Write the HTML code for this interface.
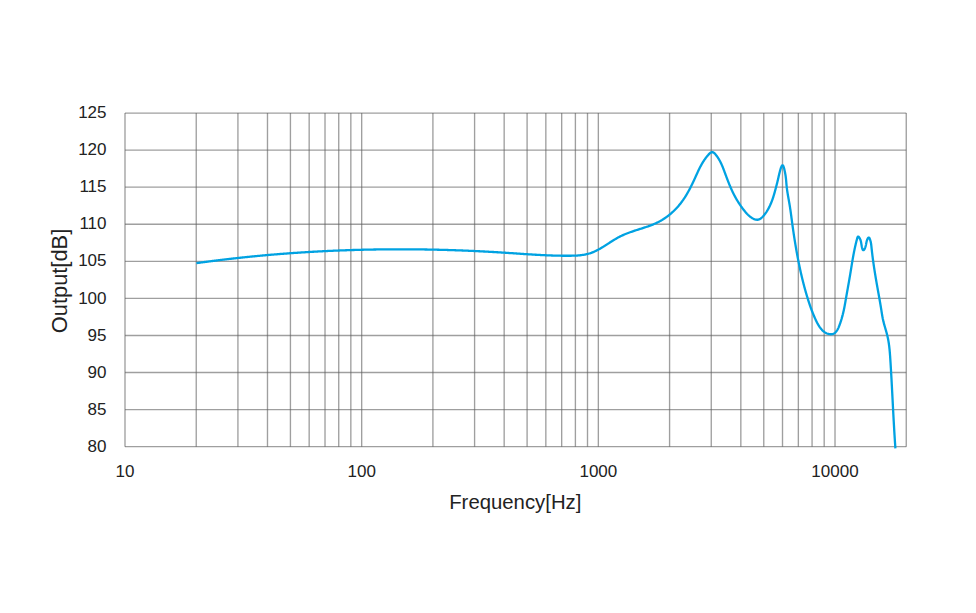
<!DOCTYPE html>
<html><head><meta charset="utf-8"><style>
html,body{margin:0;padding:0;background:#fff;}
svg{display:block;}
text{font-family:"Liberation Sans",sans-serif;fill:#222;}
</style></head><body>
<svg width="976" height="613" viewBox="0 0 976 613">
<rect width="976" height="613" fill="#fff"/>
<g stroke="#5f5f5f" stroke-width="1.35" stroke-opacity="0.6" fill="none">
<line x1="125.00" y1="113.05" x2="906.25" y2="113.05"/>
<line x1="125.00" y1="150.12" x2="906.25" y2="150.12"/>
<line x1="125.00" y1="187.19" x2="906.25" y2="187.19"/>
<line x1="125.00" y1="224.26" x2="906.25" y2="224.26"/>
<line x1="125.00" y1="261.33" x2="906.25" y2="261.33"/>
<line x1="125.00" y1="298.40" x2="906.25" y2="298.40"/>
<line x1="125.00" y1="335.47" x2="906.25" y2="335.47"/>
<line x1="125.00" y1="372.54" x2="906.25" y2="372.54"/>
<line x1="125.00" y1="409.61" x2="906.25" y2="409.61"/>
<line x1="125.00" y1="446.68" x2="906.25" y2="446.68"/>
<line x1="125.00" y1="113.05" x2="125.00" y2="446.68"/>
<line x1="196.24" y1="113.05" x2="196.24" y2="446.68"/>
<line x1="237.92" y1="113.05" x2="237.92" y2="446.68"/>
<line x1="267.49" y1="113.05" x2="267.49" y2="446.68"/>
<line x1="290.43" y1="113.05" x2="290.43" y2="446.68"/>
<line x1="309.17" y1="113.05" x2="309.17" y2="446.68"/>
<line x1="325.01" y1="113.05" x2="325.01" y2="446.68"/>
<line x1="338.73" y1="113.05" x2="338.73" y2="446.68"/>
<line x1="350.84" y1="113.05" x2="350.84" y2="446.68"/>
<line x1="361.67" y1="113.05" x2="361.67" y2="446.68"/>
<line x1="432.91" y1="113.05" x2="432.91" y2="446.68"/>
<line x1="474.59" y1="113.05" x2="474.59" y2="446.68"/>
<line x1="504.16" y1="113.05" x2="504.16" y2="446.68"/>
<line x1="527.10" y1="113.05" x2="527.10" y2="446.68"/>
<line x1="545.84" y1="113.05" x2="545.84" y2="446.68"/>
<line x1="561.68" y1="113.05" x2="561.68" y2="446.68"/>
<line x1="575.40" y1="113.05" x2="575.40" y2="446.68"/>
<line x1="587.51" y1="113.05" x2="587.51" y2="446.68"/>
<line x1="598.34" y1="113.05" x2="598.34" y2="446.68"/>
<line x1="669.58" y1="113.05" x2="669.58" y2="446.68"/>
<line x1="711.26" y1="113.05" x2="711.26" y2="446.68"/>
<line x1="740.83" y1="113.05" x2="740.83" y2="446.68"/>
<line x1="763.77" y1="113.05" x2="763.77" y2="446.68"/>
<line x1="782.51" y1="113.05" x2="782.51" y2="446.68"/>
<line x1="798.35" y1="113.05" x2="798.35" y2="446.68"/>
<line x1="812.07" y1="113.05" x2="812.07" y2="446.68"/>
<line x1="824.18" y1="113.05" x2="824.18" y2="446.68"/>
<line x1="835.01" y1="113.05" x2="835.01" y2="446.68"/>
<line x1="906.25" y1="113.05" x2="906.25" y2="446.68"/>
</g>
<path d="M196.40,263.15 L197.09,263.05 L197.79,262.96 L198.48,262.86 L199.17,262.76 L199.87,262.67 L200.56,262.57 L201.26,262.48 L201.95,262.39 L202.65,262.29 L203.34,262.20 L204.04,262.10 L204.73,262.01 L205.42,261.92 L206.12,261.83 L206.81,261.74 L207.51,261.64 L208.20,261.55 L208.90,261.46 L209.59,261.37 L210.29,261.28 L210.98,261.19 L211.68,261.10 L212.37,261.01 L213.07,260.92 L213.76,260.84 L214.46,260.75 L215.15,260.66 L215.85,260.57 L216.54,260.49 L217.24,260.40 L217.94,260.31 L218.63,260.23 L219.33,260.14 L220.02,260.06 L220.72,259.97 L221.41,259.89 L222.11,259.80 L222.80,259.72 L223.50,259.64 L224.20,259.55 L224.89,259.47 L225.59,259.39 L226.28,259.31 L226.98,259.22 L227.68,259.14 L228.37,259.06 L229.07,258.98 L229.76,258.90 L230.46,258.82 L231.16,258.74 L231.85,258.66 L232.55,258.58 L233.25,258.50 L233.94,258.43 L234.64,258.35 L235.33,258.27 L236.03,258.19 L236.73,258.12 L237.42,258.04 L238.12,257.96 L238.82,257.89 L239.51,257.81 L240.21,257.74 L240.91,257.66 L241.60,257.59 L242.30,257.51 L243.00,257.44 L243.69,257.37 L244.39,257.29 L245.09,257.22 L245.79,257.15 L246.48,257.08 L247.18,257.01 L247.88,256.93 L248.57,256.86 L249.27,256.79 L249.97,256.72 L250.67,256.65 L251.36,256.58 L252.06,256.51 L252.76,256.44 L253.45,256.37 L254.15,256.31 L254.85,256.24 L255.55,256.17 L256.24,256.10 L256.94,256.04 L257.64,255.97 L258.34,255.90 L259.03,255.84 L259.73,255.77 L260.43,255.71 L261.13,255.64 L261.83,255.58 L262.52,255.51 L263.22,255.45 L263.92,255.39 L264.62,255.32 L265.31,255.26 L266.01,255.20 L266.71,255.14 L267.41,255.07 L268.11,255.01 L268.80,254.95 L269.50,254.89 L270.20,254.83 L270.90,254.77 L271.60,254.71 L272.30,254.65 L272.99,254.59 L273.69,254.53 L274.39,254.47 L275.09,254.42 L275.79,254.36 L276.49,254.30 L277.18,254.24 L277.88,254.19 L278.58,254.13 L279.28,254.07 L279.98,254.02 L280.68,253.96 L281.37,253.91 L282.07,253.85 L282.77,253.80 L283.47,253.74 L284.17,253.69 L284.87,253.64 L285.57,253.58 L286.27,253.53 L286.96,253.48 L287.66,253.43 L288.36,253.37 L289.06,253.32 L289.76,253.27 L290.46,253.22 L291.16,253.17 L291.86,253.12 L292.56,253.07 L293.25,253.02 L293.95,252.97 L294.65,252.92 L295.35,252.87 L296.05,252.83 L296.75,252.78 L297.45,252.73 L298.15,252.68 L298.85,252.64 L299.55,252.59 L300.25,252.54 L300.95,252.50 L301.64,252.45 L302.34,252.41 L303.04,252.36 L303.74,252.32 L304.44,252.28 L305.14,252.23 L305.84,252.19 L306.54,252.14 L307.24,252.10 L307.94,252.06 L308.64,252.02 L309.34,251.98 L310.04,251.93 L310.74,251.89 L311.44,251.85 L312.14,251.81 L312.84,251.77 L313.54,251.73 L314.23,251.69 L314.93,251.65 L315.63,251.61 L316.33,251.58 L317.03,251.54 L317.73,251.50 L318.43,251.46 L319.13,251.42 L319.83,251.39 L320.53,251.35 L321.23,251.31 L321.93,251.28 L322.63,251.24 L323.33,251.21 L324.03,251.17 L324.73,251.14 L325.43,251.10 L326.13,251.07 L326.83,251.04 L327.53,251.00 L328.23,250.97 L328.93,250.94 L329.63,250.90 L330.33,250.87 L331.03,250.84 L331.73,250.81 L332.43,250.78 L333.13,250.75 L333.83,250.72 L334.53,250.69 L335.23,250.66 L335.93,250.63 L336.63,250.60 L337.33,250.57 L338.03,250.54 L338.73,250.51 L339.43,250.49 L340.13,250.46 L340.83,250.43 L341.53,250.40 L342.23,250.38 L342.93,250.35 L343.63,250.33 L344.33,250.30 L345.03,250.28 L345.73,250.25 L346.43,250.23 L347.14,250.20 L347.84,250.18 L348.54,250.15 L349.24,250.13 L349.94,250.11 L350.64,250.09 L351.34,250.06 L352.04,250.04 L352.74,250.02 L353.44,250.00 L354.14,249.98 L354.84,249.96 L355.54,249.94 L356.24,249.92 L356.94,249.90 L357.64,249.88 L358.34,249.86 L359.04,249.84 L359.74,249.82 L360.44,249.80 L361.14,249.78 L361.84,249.77 L362.54,249.75 L363.25,249.73 L363.95,249.72 L364.65,249.70 L365.35,249.68 L366.05,249.67 L366.75,249.65 L367.45,249.64 L368.15,249.62 L368.85,249.61 L369.55,249.60 L370.25,249.58 L370.95,249.57 L371.65,249.56 L372.35,249.54 L373.05,249.53 L373.75,249.52 L374.45,249.51 L375.16,249.50 L375.86,249.48 L376.56,249.47 L377.26,249.46 L377.96,249.45 L378.66,249.44 L379.36,249.43 L380.06,249.42 L380.76,249.41 L381.46,249.41 L382.16,249.40 L382.86,249.39 L383.56,249.38 L384.26,249.37 L384.97,249.37 L385.67,249.36 L386.37,249.35 L387.07,249.35 L387.77,249.34 L388.47,249.34 L389.17,249.33 L389.87,249.33 L390.57,249.32 L391.27,249.32 L391.97,249.31 L392.67,249.31 L393.37,249.31 L394.07,249.31 L394.78,249.30 L395.48,249.30 L396.18,249.30 L396.88,249.30 L397.58,249.30 L398.28,249.29 L398.98,249.29 L399.68,249.29 L400.38,249.29 L401.08,249.29 L401.78,249.29 L402.48,249.29 L403.18,249.30 L403.88,249.30 L404.59,249.30 L405.29,249.30 L405.99,249.30 L406.69,249.31 L407.39,249.31 L408.09,249.31 L408.79,249.32 L409.49,249.32 L410.19,249.32 L410.89,249.33 L411.59,249.33 L412.29,249.34 L412.99,249.34 L413.70,249.35 L414.40,249.36 L415.10,249.36 L415.80,249.37 L416.50,249.38 L417.20,249.38 L417.90,249.39 L418.60,249.40 L419.30,249.41 L420.00,249.42 L420.70,249.42 L421.40,249.43 L422.10,249.44 L422.80,249.45 L423.50,249.46 L424.21,249.47 L424.91,249.48 L425.61,249.50 L426.31,249.51 L427.01,249.52 L427.71,249.53 L428.41,249.54 L429.11,249.56 L429.81,249.57 L430.51,249.58 L431.21,249.60 L431.91,249.61 L432.61,249.62 L433.31,249.64 L434.01,249.65 L434.71,249.67 L435.42,249.68 L436.12,249.70 L436.82,249.71 L437.52,249.73 L438.22,249.75 L438.92,249.76 L439.62,249.78 L440.32,249.80 L441.02,249.82 L441.72,249.84 L442.42,249.85 L443.12,249.87 L443.82,249.89 L444.52,249.91 L445.22,249.93 L445.92,249.95 L446.62,249.97 L447.32,249.99 L448.02,250.01 L448.73,250.03 L449.43,250.05 L450.13,250.08 L450.83,250.10 L451.53,250.12 L452.23,250.14 L452.93,250.17 L453.63,250.19 L454.33,250.21 L455.03,250.24 L455.73,250.26 L456.43,250.29 L457.13,250.31 L457.83,250.34 L458.53,250.36 L459.23,250.39 L459.93,250.41 L460.63,250.44 L461.33,250.47 L462.03,250.49 L462.73,250.52 L463.43,250.55 L464.13,250.58 L464.83,250.60 L465.53,250.63 L466.23,250.66 L466.93,250.69 L467.63,250.72 L468.33,250.75 L469.03,250.78 L469.73,250.81 L470.43,250.84 L471.13,250.87 L471.83,250.90 L472.53,250.93 L473.23,250.97 L473.93,251.00 L474.63,251.03 L475.33,251.06 L476.03,251.10 L476.73,251.13 L477.43,251.16 L478.13,251.20 L478.83,251.23 L479.53,251.27 L480.23,251.30 L480.93,251.34 L481.63,251.37 L482.33,251.41 L483.03,251.44 L483.73,251.48 L484.43,251.52 L485.13,251.55 L485.83,251.59 L486.53,251.63 L487.23,251.67 L487.93,251.70 L488.63,251.74 L489.33,251.78 L490.03,251.82 L490.73,251.86 L491.43,251.90 L492.13,251.94 L492.83,251.98 L493.53,252.02 L494.23,252.06 L494.93,252.10 L495.63,252.14 L496.33,252.18 L497.02,252.23 L497.72,252.27 L498.42,252.31 L499.12,252.35 L499.82,252.40 L500.52,252.44 L501.22,252.48 L501.92,252.53 L502.62,252.57 L503.32,252.62 L504.02,252.66 L504.72,252.71 L505.42,252.75 L506.12,252.80 L506.82,252.85 L507.51,252.89 L508.21,252.94 L508.91,252.99 L509.61,253.03 L510.31,253.08 L511.01,253.13 L511.71,253.17 L512.41,253.22 L513.11,253.27 L513.81,253.32 L514.51,253.36 L515.21,253.41 L515.90,253.46 L516.60,253.51 L517.30,253.55 L518.00,253.60 L518.70,253.65 L519.40,253.70 L520.10,253.74 L520.80,253.79 L521.50,253.84 L522.20,253.89 L522.90,253.93 L523.60,253.98 L524.29,254.03 L524.99,254.07 L525.69,254.12 L526.39,254.16 L527.09,254.21 L527.79,254.25 L528.49,254.30 L529.19,254.34 L529.89,254.39 L530.59,254.43 L531.29,254.47 L531.99,254.52 L532.69,254.56 L533.39,254.60 L534.09,254.64 L534.78,254.69 L535.48,254.73 L536.18,254.77 L536.88,254.81 L537.58,254.85 L538.28,254.88 L538.98,254.92 L539.68,254.96 L540.38,255.00 L541.08,255.03 L541.78,255.07 L542.48,255.10 L543.18,255.14 L543.88,255.17 L544.58,255.20 L545.28,255.24 L545.98,255.27 L546.68,255.30 L547.38,255.33 L548.08,255.36 L548.78,255.38 L549.48,255.41 L550.18,255.44 L550.88,255.46 L551.58,255.49 L552.28,255.51 L552.98,255.53 L553.68,255.56 L554.38,255.58 L555.09,255.60 L555.79,255.61 L556.49,255.63 L557.19,255.65 L557.89,255.67 L558.59,255.68 L559.29,255.69 L559.99,255.71 L560.69,255.72 L561.39,255.73 L562.09,255.74 L562.79,255.74 L563.49,255.75 L564.19,255.76 L564.89,255.76 L565.59,255.76 L566.30,255.77 L567.00,255.77 L567.70,255.77 L568.40,255.76 L569.10,255.76 L569.80,255.75 L570.50,255.75 L571.20,255.74 L571.90,255.72 L572.60,255.71 L573.30,255.69 L574.00,255.67 L574.70,255.64 L575.40,255.61 L576.10,255.57 L576.80,255.53 L577.50,255.49 L578.20,255.43 L578.90,255.37 L579.60,255.31 L580.29,255.24 L580.99,255.16 L581.68,255.07 L582.38,254.98 L583.07,254.88 L583.76,254.76 L584.45,254.64 L585.14,254.51 L585.83,254.37 L586.51,254.22 L587.20,254.06 L587.88,253.89 L588.55,253.71 L589.22,253.51 L589.89,253.31 L590.56,253.09 L591.22,252.86 L591.88,252.61 L592.53,252.36 L593.18,252.10 L593.83,251.83 L594.47,251.54 L595.11,251.25 L595.74,250.95 L596.37,250.64 L597.00,250.33 L597.62,250.01 L598.24,249.68 L598.85,249.34 L599.46,249.00 L600.07,248.66 L600.68,248.31 L601.29,247.95 L601.89,247.59 L602.49,247.23 L603.08,246.87 L603.68,246.50 L604.27,246.13 L604.87,245.75 L605.46,245.38 L606.05,245.00 L606.64,244.62 L607.23,244.24 L607.82,243.86 L608.41,243.48 L609.00,243.10 L609.58,242.72 L610.17,242.34 L610.76,241.96 L611.35,241.59 L611.95,241.21 L612.54,240.84 L613.13,240.47 L613.73,240.10 L614.33,239.73 L614.93,239.37 L615.53,239.01 L616.13,238.66 L616.74,238.31 L617.35,237.96 L617.96,237.62 L618.58,237.29 L619.20,236.96 L619.82,236.64 L620.45,236.32 L621.07,236.01 L621.71,235.71 L622.34,235.41 L622.98,235.12 L623.62,234.84 L624.26,234.56 L624.91,234.28 L625.55,234.02 L626.20,233.75 L626.85,233.49 L627.51,233.24 L628.16,232.99 L628.82,232.74 L629.48,232.50 L630.14,232.27 L630.80,232.03 L631.46,231.80 L632.12,231.57 L632.78,231.34 L633.45,231.12 L634.11,230.90 L634.78,230.68 L635.44,230.46 L636.11,230.25 L636.78,230.03 L637.44,229.82 L638.11,229.60 L638.78,229.39 L639.45,229.18 L640.11,228.96 L640.78,228.75 L641.45,228.54 L642.12,228.32 L642.78,228.11 L643.45,227.89 L644.12,227.67 L644.78,227.45 L645.45,227.23 L646.11,227.01 L646.77,226.78 L647.43,226.55 L648.10,226.32 L648.75,226.08 L649.41,225.84 L650.07,225.60 L650.73,225.35 L651.38,225.10 L652.03,224.84 L652.68,224.58 L653.33,224.32 L653.98,224.04 L654.62,223.77 L655.26,223.49 L655.90,223.20 L656.54,222.90 L657.17,222.60 L657.80,222.30 L658.43,221.98 L659.05,221.66 L659.67,221.33 L660.28,221.00 L660.89,220.65 L661.50,220.30 L662.10,219.95 L662.70,219.58 L663.30,219.21 L663.89,218.83 L664.47,218.45 L665.05,218.06 L665.63,217.66 L666.20,217.26 L666.77,216.85 L667.34,216.43 L667.90,216.01 L668.45,215.58 L669.00,215.14 L669.55,214.70 L670.09,214.26 L670.62,213.81 L671.15,213.35 L671.68,212.89 L672.20,212.42 L672.72,211.95 L673.23,211.47 L673.74,210.99 L674.24,210.50 L674.74,210.01 L675.23,209.51 L675.72,209.01 L676.20,208.50 L676.68,207.99 L677.16,207.47 L677.62,206.95 L678.09,206.42 L678.55,205.89 L679.00,205.36 L679.45,204.82 L679.89,204.27 L680.32,203.73 L680.76,203.17 L681.18,202.62 L681.60,202.06 L682.02,201.49 L682.43,200.93 L682.84,200.36 L683.24,199.78 L683.64,199.20 L684.03,198.62 L684.41,198.04 L684.80,197.45 L685.17,196.86 L685.55,196.27 L685.92,195.67 L686.28,195.07 L686.64,194.47 L687.00,193.87 L687.35,193.27 L687.70,192.66 L688.05,192.05 L688.39,191.44 L688.73,190.82 L689.06,190.21 L689.39,189.59 L689.72,188.97 L690.05,188.35 L690.37,187.73 L690.69,187.10 L691.01,186.48 L691.32,185.85 L691.63,185.22 L691.94,184.60 L692.25,183.97 L692.55,183.33 L692.85,182.70 L693.15,182.07 L693.45,181.43 L693.75,180.80 L694.04,180.16 L694.34,179.53 L694.63,178.89 L694.92,178.25 L695.21,177.62 L695.50,176.98 L695.79,176.34 L696.07,175.70 L696.36,175.06 L696.65,174.42 L696.94,173.78 L697.23,173.15 L697.52,172.51 L697.82,171.87 L698.11,171.24 L698.41,170.60 L698.71,169.97 L699.02,169.34 L699.33,168.71 L699.64,168.08 L699.96,167.46 L700.28,166.84 L700.60,166.22 L700.94,165.60 L701.27,164.98 L701.61,164.37 L701.96,163.76 L702.31,163.16 L702.67,162.56 L703.04,161.96 L703.41,161.37 L703.80,160.78 L704.18,160.20 L704.58,159.62 L704.98,159.04 L705.39,158.47 L705.81,157.91 L706.23,157.35 L706.66,156.80 L707.11,156.26 L707.55,155.72 L708.01,155.19 L708.47,154.66 L708.95,154.15 L709.44,153.65 L709.96,153.18 L710.52,152.75 L711.12,152.40 L711.78,152.16 L712.47,152.10 L713.14,152.29 L713.75,152.64 L714.29,153.09 L714.78,153.58 L715.25,154.11 L715.70,154.65 L716.13,155.19 L716.56,155.75 L716.98,156.31 L717.38,156.89 L717.78,157.46 L718.16,158.05 L718.54,158.64 L718.90,159.24 L719.26,159.85 L719.60,160.45 L719.94,161.07 L720.26,161.69 L720.58,162.32 L720.89,162.94 L721.19,163.58 L721.48,164.21 L721.77,164.85 L722.05,165.49 L722.32,166.14 L722.59,166.79 L722.85,167.44 L723.11,168.09 L723.37,168.74 L723.62,169.40 L723.87,170.05 L724.11,170.71 L724.36,171.36 L724.60,172.02 L724.84,172.68 L725.09,173.34 L725.33,173.99 L725.57,174.65 L725.82,175.31 L726.06,175.96 L726.31,176.62 L726.55,177.28 L726.80,177.93 L727.05,178.59 L727.30,179.24 L727.55,179.90 L727.80,180.55 L728.05,181.20 L728.31,181.86 L728.57,182.51 L728.83,183.16 L729.09,183.81 L729.35,184.46 L729.62,185.10 L729.89,185.75 L730.16,186.40 L730.44,187.04 L730.72,187.68 L731.00,188.33 L731.28,188.97 L731.57,189.61 L731.86,190.24 L732.15,190.88 L732.45,191.51 L732.75,192.15 L733.06,192.78 L733.37,193.41 L733.68,194.03 L734.00,194.66 L734.32,195.28 L734.65,195.90 L734.98,196.52 L735.31,197.13 L735.65,197.75 L736.00,198.36 L736.34,198.96 L736.70,199.57 L737.05,200.17 L737.42,200.77 L737.78,201.37 L738.15,201.97 L738.53,202.56 L738.91,203.15 L739.29,203.73 L739.68,204.32 L740.07,204.90 L740.46,205.48 L740.86,206.05 L741.27,206.62 L741.68,207.19 L742.09,207.76 L742.51,208.32 L742.93,208.88 L743.36,209.44 L743.79,209.99 L744.22,210.54 L744.66,211.09 L745.10,211.63 L745.55,212.17 L746.01,212.70 L746.47,213.23 L746.94,213.75 L747.43,214.25 L747.92,214.75 L748.43,215.23 L748.95,215.70 L749.48,216.16 L750.03,216.59 L750.59,217.02 L751.16,217.42 L751.74,217.81 L752.34,218.17 L752.95,218.51 L753.58,218.82 L754.23,219.10 L754.88,219.34 L755.56,219.54 L756.24,219.67 L756.94,219.75 L757.64,219.74 L758.33,219.63 L759.00,219.44 L759.65,219.16 L760.26,218.82 L760.84,218.43 L761.39,217.99 L761.91,217.52 L762.41,217.03 L762.89,216.52 L763.36,216.00 L763.81,215.46 L764.25,214.92 L764.68,214.37 L765.11,213.81 L765.52,213.25 L765.92,212.67 L766.32,212.10 L766.71,211.51 L767.08,210.92 L767.45,210.32 L767.81,209.72 L768.16,209.11 L768.50,208.50 L768.83,207.88 L769.15,207.26 L769.47,206.64 L769.77,206.01 L770.07,205.37 L770.36,204.73 L770.65,204.09 L770.92,203.45 L771.19,202.80 L771.45,202.15 L771.70,201.50 L771.95,200.84 L772.19,200.18 L772.43,199.52 L772.66,198.86 L772.88,198.20 L773.10,197.53 L773.32,196.87 L773.53,196.20 L773.74,195.53 L773.94,194.86 L774.14,194.19 L774.33,193.51 L774.52,192.84 L774.71,192.16 L774.90,191.49 L775.09,190.81 L775.27,190.14 L775.45,189.46 L775.63,188.78 L775.81,188.10 L775.99,187.43 L776.16,186.75 L776.34,186.07 L776.52,185.39 L776.69,184.71 L776.86,184.03 L777.04,183.36 L777.21,182.68 L777.38,182.00 L777.54,181.32 L777.71,180.63 L777.87,179.95 L778.03,179.27 L778.18,178.59 L778.34,177.90 L778.49,177.22 L778.64,176.53 L778.80,175.85 L778.96,175.17 L779.12,174.49 L779.28,173.81 L779.45,173.13 L779.62,172.45 L779.80,171.77 L779.98,171.09 L780.16,170.41 L780.35,169.74 L780.55,169.07 L780.76,168.40 L780.98,167.73 L781.23,167.08 L781.50,166.43 L781.83,165.81 L782.28,165.29 L782.90,165.41 L783.28,165.99 L783.56,166.64 L783.78,167.30 L783.98,167.97 L784.16,168.65 L784.33,169.33 L784.49,170.01 L784.65,170.69 L784.80,171.38 L784.94,172.06 L785.07,172.75 L785.20,173.44 L785.32,174.13 L785.44,174.82 L785.55,175.51 L785.65,176.21 L785.74,176.90 L785.83,177.60 L785.91,178.29 L785.99,178.99 L786.06,179.69 L786.13,180.38 L786.19,181.08 L786.25,181.78 L786.31,182.48 L786.36,183.18 L786.42,183.87 L786.48,184.57 L786.54,185.27 L786.61,185.97 L786.68,186.67 L786.76,187.36 L786.84,188.06 L786.93,188.75 L787.02,189.45 L787.12,190.14 L787.22,190.83 L787.33,191.53 L787.43,192.22 L787.54,192.91 L787.66,193.60 L787.77,194.29 L787.89,194.99 L788.01,195.68 L788.13,196.37 L788.25,197.06 L788.37,197.75 L788.49,198.44 L788.62,199.13 L788.74,199.82 L788.86,200.51 L788.98,201.20 L789.10,201.89 L789.22,202.58 L789.34,203.27 L789.46,203.96 L789.58,204.65 L789.69,205.34 L789.80,206.03 L789.91,206.72 L790.02,207.42 L790.13,208.11 L790.23,208.80 L790.34,209.50 L790.44,210.19 L790.54,210.88 L790.64,211.58 L790.74,212.27 L790.83,212.96 L790.93,213.66 L791.02,214.35 L791.12,215.05 L791.21,215.74 L791.31,216.44 L791.40,217.13 L791.49,217.82 L791.58,218.52 L791.68,219.21 L791.77,219.91 L791.86,220.60 L791.95,221.30 L792.05,221.99 L792.14,222.69 L792.23,223.38 L792.33,224.08 L792.42,224.77 L792.52,225.46 L792.61,226.16 L792.71,226.85 L792.81,227.55 L792.91,228.24 L793.00,228.93 L793.10,229.63 L793.20,230.32 L793.30,231.01 L793.40,231.71 L793.51,232.40 L793.61,233.09 L793.71,233.79 L793.82,234.48 L793.92,235.17 L794.02,235.87 L794.13,236.56 L794.24,237.25 L794.34,237.94 L794.45,238.64 L794.56,239.33 L794.67,240.02 L794.78,240.71 L794.89,241.41 L795.00,242.10 L795.11,242.79 L795.23,243.48 L795.34,244.17 L795.46,244.86 L795.57,245.55 L795.69,246.25 L795.80,246.94 L795.92,247.63 L796.04,248.32 L796.16,249.01 L796.28,249.70 L796.40,250.39 L796.52,251.08 L796.65,251.77 L796.77,252.46 L796.90,253.15 L797.02,253.84 L797.15,254.53 L797.28,255.22 L797.40,255.90 L797.53,256.59 L797.66,257.28 L797.80,257.97 L797.93,258.66 L798.06,259.35 L798.20,260.03 L798.33,260.72 L798.47,261.41 L798.60,262.10 L798.74,262.78 L798.88,263.47 L799.02,264.16 L799.16,264.84 L799.31,265.53 L799.45,266.21 L799.59,266.90 L799.74,267.59 L799.89,268.27 L800.03,268.96 L800.18,269.64 L800.33,270.33 L800.48,271.01 L800.64,271.69 L800.79,272.38 L800.94,273.06 L801.10,273.74 L801.26,274.43 L801.41,275.11 L801.57,275.79 L801.73,276.47 L801.90,277.16 L802.06,277.84 L802.22,278.52 L802.39,279.20 L802.56,279.88 L802.72,280.56 L802.89,281.24 L803.07,281.92 L803.24,282.60 L803.41,283.28 L803.59,283.96 L803.76,284.63 L803.94,285.31 L804.12,285.99 L804.30,286.67 L804.48,287.34 L804.66,288.02 L804.85,288.70 L805.03,289.37 L805.22,290.05 L805.41,290.72 L805.60,291.40 L805.79,292.07 L805.98,292.74 L806.18,293.42 L806.38,294.09 L806.57,294.76 L806.77,295.43 L806.97,296.11 L807.18,296.78 L807.38,297.45 L807.59,298.12 L807.79,298.79 L808.00,299.45 L808.21,300.12 L808.43,300.79 L808.64,301.46 L808.86,302.12 L809.08,302.79 L809.30,303.46 L809.52,304.12 L809.74,304.78 L809.97,305.45 L810.20,306.11 L810.43,306.77 L810.67,307.43 L810.90,308.09 L811.14,308.75 L811.39,309.40 L811.63,310.06 L811.88,310.72 L812.13,311.37 L812.39,312.02 L812.64,312.68 L812.90,313.33 L813.17,313.98 L813.43,314.62 L813.70,315.27 L813.97,315.92 L814.25,316.56 L814.53,317.20 L814.81,317.85 L815.09,318.49 L815.38,319.13 L815.67,319.76 L815.97,320.40 L816.27,321.03 L816.58,321.66 L816.89,322.29 L817.21,322.91 L817.54,323.53 L817.88,324.14 L818.23,324.75 L818.59,325.35 L818.96,325.94 L819.34,326.53 L819.74,327.11 L820.15,327.68 L820.57,328.24 L821.01,328.78 L821.47,329.32 L821.94,329.83 L822.43,330.33 L822.94,330.81 L823.47,331.27 L824.02,331.71 L824.58,332.12 L825.17,332.50 L825.78,332.86 L826.40,333.18 L827.04,333.46 L827.69,333.71 L828.36,333.92 L829.04,334.08 L829.73,334.20 L830.43,334.26 L831.13,334.26 L831.83,334.19 L832.52,334.06 L833.19,333.85 L833.83,333.57 L834.43,333.22 L834.99,332.80 L835.51,332.33 L835.99,331.81 L836.42,331.27 L836.83,330.70 L837.21,330.11 L837.56,329.50 L837.89,328.88 L838.20,328.26 L838.50,327.62 L838.78,326.98 L839.05,326.33 L839.31,325.68 L839.56,325.02 L839.80,324.37 L840.03,323.71 L840.26,323.04 L840.48,322.38 L840.70,321.71 L840.92,321.05 L841.13,320.38 L841.33,319.71 L841.54,319.04 L841.73,318.37 L841.93,317.69 L842.12,317.02 L842.30,316.34 L842.49,315.67 L842.66,314.99 L842.84,314.31 L843.00,313.63 L843.17,312.95 L843.33,312.26 L843.49,311.58 L843.64,310.90 L843.79,310.21 L843.94,309.53 L844.08,308.84 L844.22,308.16 L844.35,307.47 L844.49,306.78 L844.62,306.09 L844.75,305.40 L844.87,304.71 L845.00,304.02 L845.12,303.33 L845.24,302.64 L845.36,301.95 L845.48,301.26 L845.60,300.57 L845.72,299.88 L845.84,299.19 L845.96,298.50 L846.08,297.81 L846.20,297.12 L846.32,296.43 L846.44,295.74 L846.57,295.05 L846.69,294.36 L846.81,293.67 L846.93,292.98 L847.06,292.29 L847.18,291.60 L847.30,290.91 L847.43,290.22 L847.55,289.53 L847.67,288.84 L847.80,288.15 L847.92,287.46 L848.04,286.77 L848.17,286.08 L848.29,285.39 L848.41,284.70 L848.54,284.01 L848.66,283.32 L848.78,282.63 L848.90,281.94 L849.02,281.25 L849.14,280.56 L849.26,279.87 L849.38,279.18 L849.50,278.49 L849.62,277.80 L849.74,277.11 L849.86,276.42 L849.97,275.73 L850.09,275.04 L850.20,274.35 L850.32,273.65 L850.43,272.96 L850.55,272.27 L850.66,271.58 L850.77,270.89 L850.88,270.20 L851.00,269.50 L851.11,268.81 L851.22,268.12 L851.33,267.43 L851.44,266.74 L851.55,266.05 L851.67,265.35 L851.78,264.66 L851.89,263.97 L852.01,263.28 L852.12,262.59 L852.24,261.90 L852.35,261.21 L852.47,260.51 L852.58,259.82 L852.70,259.13 L852.82,258.44 L852.94,257.75 L853.07,257.06 L853.19,256.37 L853.31,255.68 L853.44,254.99 L853.57,254.30 L853.70,253.62 L853.83,252.93 L853.96,252.24 L854.10,251.55 L854.24,250.87 L854.38,250.18 L854.52,249.49 L854.66,248.81 L854.81,248.12 L854.96,247.44 L855.11,246.75 L855.26,246.07 L855.42,245.39 L855.58,244.70 L855.74,244.02 L855.90,243.34 L856.07,242.66 L856.24,241.98 L856.41,241.30 L856.59,240.62 L856.77,239.94 L856.95,239.27 L857.14,238.59 L857.32,237.92 L857.53,237.25 L857.83,236.62 L858.43,236.55 L858.92,237.05 L859.32,237.62 L859.67,238.23 L859.99,238.85 L860.28,239.49 L860.53,240.15 L860.74,240.81 L860.92,241.49 L861.07,242.18 L861.19,242.87 L861.30,243.56 L861.41,244.25 L861.52,244.94 L861.64,245.63 L861.76,246.32 L861.91,247.01 L862.07,247.69 L862.25,248.37 L862.47,249.03 L862.76,249.67 L863.21,250.19 L863.84,250.06 L864.28,249.52 L864.62,248.91 L864.91,248.27 L865.17,247.62 L865.40,246.96 L865.60,246.29 L865.78,245.61 L865.94,244.93 L866.08,244.24 L866.20,243.55 L866.33,242.86 L866.47,242.17 L866.63,241.49 L866.81,240.81 L867.03,240.15 L867.27,239.49 L867.55,238.85 L867.89,238.23 L868.33,237.69 L868.96,237.61 L869.42,238.13 L869.73,238.76 L869.99,239.41 L870.21,240.07 L870.41,240.75 L870.59,241.42 L870.76,242.11 L870.90,242.79 L871.03,243.48 L871.14,244.17 L871.23,244.87 L871.32,245.56 L871.39,246.26 L871.46,246.96 L871.53,247.65 L871.61,248.35 L871.68,249.05 L871.76,249.74 L871.83,250.44 L871.91,251.14 L871.99,251.83 L872.07,252.53 L872.15,253.22 L872.24,253.92 L872.32,254.62 L872.41,255.31 L872.49,256.01 L872.58,256.70 L872.67,257.40 L872.76,258.09 L872.85,258.79 L872.94,259.48 L873.04,260.18 L873.13,260.87 L873.23,261.56 L873.33,262.26 L873.42,262.95 L873.52,263.65 L873.62,264.34 L873.72,265.03 L873.82,265.73 L873.93,266.42 L874.03,267.11 L874.13,267.81 L874.24,268.50 L874.34,269.19 L874.45,269.88 L874.56,270.58 L874.67,271.27 L874.78,271.96 L874.89,272.65 L875.00,273.34 L875.11,274.04 L875.22,274.73 L875.34,275.42 L875.45,276.11 L875.57,276.80 L875.68,277.49 L875.80,278.18 L875.91,278.88 L876.03,279.57 L876.15,280.26 L876.27,280.95 L876.39,281.64 L876.51,282.33 L876.63,283.02 L876.75,283.71 L876.87,284.40 L876.99,285.09 L877.12,285.78 L877.24,286.47 L877.36,287.16 L877.49,287.85 L877.61,288.54 L877.73,289.23 L877.86,289.92 L877.98,290.61 L878.11,291.30 L878.23,291.99 L878.35,292.68 L878.48,293.37 L878.60,294.06 L878.72,294.75 L878.85,295.43 L878.97,296.12 L879.09,296.81 L879.22,297.50 L879.34,298.19 L879.46,298.88 L879.58,299.57 L879.70,300.27 L879.82,300.96 L879.94,301.65 L880.06,302.34 L880.18,303.03 L880.30,303.72 L880.41,304.41 L880.53,305.10 L880.64,305.79 L880.76,306.48 L880.87,307.17 L880.99,307.87 L881.10,308.56 L881.21,309.25 L881.32,309.94 L881.43,310.63 L881.53,311.33 L881.64,312.02 L881.75,312.71 L881.86,313.40 L881.97,314.10 L882.08,314.79 L882.20,315.48 L882.32,316.17 L882.44,316.86 L882.57,317.55 L882.71,318.23 L882.84,318.92 L882.99,319.61 L883.14,320.29 L883.30,320.97 L883.46,321.65 L883.64,322.33 L883.81,323.01 L883.99,323.69 L884.18,324.37 L884.36,325.04 L884.55,325.72 L884.75,326.39 L884.94,327.06 L885.14,327.74 L885.33,328.41 L885.53,329.08 L885.72,329.75 L885.92,330.43 L886.11,331.10 L886.30,331.78 L886.49,332.45 L886.67,333.13 L886.85,333.80 L887.03,334.48 L887.20,335.16 L887.37,335.84 L887.53,336.52 L887.68,337.21 L887.83,337.89 L887.97,338.58 L888.11,339.27 L888.24,339.96 L888.36,340.64 L888.48,341.34 L888.59,342.03 L888.70,342.72 L888.81,343.41 L888.91,344.11 L889.00,344.80 L889.10,345.49 L889.18,346.19 L889.27,346.88 L889.35,347.58 L889.42,348.28 L889.50,348.97 L889.57,349.67 L889.63,350.37 L889.70,351.07 L889.76,351.77 L889.82,352.46 L889.88,353.16 L889.93,353.86 L889.99,354.56 L890.04,355.26 L890.09,355.96 L890.14,356.66 L890.18,357.35 L890.23,358.05 L890.28,358.75 L890.32,359.45 L890.37,360.15 L890.41,360.85 L890.46,361.55 L890.50,362.25 L890.55,362.95 L890.59,363.65 L890.63,364.35 L890.67,365.05 L890.72,365.75 L890.76,366.45 L890.80,367.15 L890.84,367.85 L890.89,368.54 L890.93,369.24 L890.97,369.94 L891.01,370.64 L891.05,371.34 L891.09,372.04 L891.13,372.74 L891.17,373.44 L891.21,374.14 L891.25,374.84 L891.29,375.54 L891.33,376.24 L891.37,376.94 L891.41,377.64 L891.45,378.34 L891.49,379.04 L891.52,379.74 L891.56,380.44 L891.60,381.14 L891.64,381.84 L891.68,382.54 L891.72,383.24 L891.75,383.94 L891.79,384.64 L891.83,385.34 L891.87,386.04 L891.90,386.74 L891.94,387.44 L891.98,388.14 L892.01,388.83 L892.05,389.53 L892.09,390.23 L892.12,390.93 L892.16,391.63 L892.20,392.33 L892.23,393.03 L892.27,393.73 L892.31,394.43 L892.34,395.13 L892.38,395.83 L892.42,396.53 L892.45,397.23 L892.49,397.93 L892.52,398.63 L892.56,399.33 L892.60,400.03 L892.63,400.73 L892.67,401.43 L892.71,402.13 L892.74,402.83 L892.78,403.53 L892.82,404.23 L892.85,404.93 L892.89,405.63 L892.92,406.33 L892.96,407.03 L893.00,407.73 L893.03,408.43 L893.07,409.13 L893.11,409.83 L893.14,410.53 L893.18,411.23 L893.22,411.93 L893.26,412.63 L893.29,413.33 L893.33,414.03 L893.37,414.73 L893.41,415.43 L893.44,416.13 L893.48,416.83 L893.52,417.53 L893.56,418.23 L893.59,418.93 L893.63,419.63 L893.67,420.32 L893.71,421.02 L893.75,421.72 L893.79,422.42 L893.83,423.12 L893.87,423.82 L893.91,424.52 L893.95,425.22 L893.99,425.92 L894.03,426.62 L894.07,427.32 L894.11,428.02 L894.15,428.72 L894.19,429.42 L894.23,430.12 L894.27,430.82 L894.31,431.52 L894.35,432.22 L894.40,432.92 L894.44,433.62 L894.48,434.32 L894.52,435.02 L894.57,435.72 L894.61,436.41 L894.65,437.11 L894.70,437.81 L894.74,438.51 L894.79,439.21 L894.83,439.91 L894.88,440.61 L894.92,441.31 L894.97,442.01 L895.01,442.71 L895.06,443.41 L895.11,444.11 L895.16,444.81 L895.20,445.50 L895.25,446.20 L895.30,446.90 L895.35,447.60 L895.40,448.30" fill="none" stroke="#00a2e2" stroke-width="2.3" stroke-linejoin="round" stroke-linecap="butt"/>
<g font-size="17">
<text x="106.5" y="118" text-anchor="end">125</text>
<text x="106.5" y="155" text-anchor="end">120</text>
<text x="106.5" y="192" text-anchor="end">115</text>
<text x="106.5" y="229" text-anchor="end">110</text>
<text x="106.5" y="266" text-anchor="end">105</text>
<text x="106.5" y="304" text-anchor="end">100</text>
<text x="106.5" y="341" text-anchor="end">95</text>
<text x="106.5" y="378" text-anchor="end">90</text>
<text x="106.5" y="415" text-anchor="end">85</text>
<text x="106.5" y="452" text-anchor="end">80</text>
<text x="125.00" y="476.5" text-anchor="middle">10</text>
<text x="361.67" y="476.5" text-anchor="middle">100</text>
<text x="598.34" y="476.5" text-anchor="middle">1000</text>
<text x="835.01" y="476.5" text-anchor="middle">10000</text>
</g>
<text x="449.2" y="509" font-size="20.5" textLength="132.2" lengthAdjust="spacingAndGlyphs">Frequency[Hz]</text>
<text transform="translate(67.4,333.2) rotate(-90)" font-size="21.2" textLength="104.4" lengthAdjust="spacingAndGlyphs">Output[dB]</text>
</svg>
</body></html>
